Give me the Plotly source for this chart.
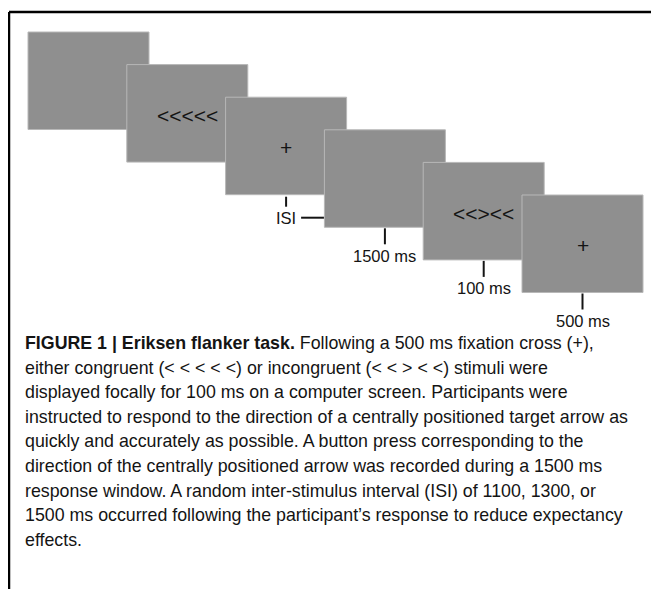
import plotly.graph_objects as go

# ---- data ----
screen_symbols = ["", "<<<<<", "+", "", "<<><<", "+"]
screen_durations = ["", "", "ISI", "1500 ms", "100 ms", "500 ms"]
caption_lines = [
    "<b>FIGURE 1 | Eriksen flanker task.</b> Following a 500 ms fixation cross (+),",
    "either congruent (< < < < <) or incongruent (< < > < <) stimuli were",
    "displayed focally for 100 ms on a computer screen. Participants were",
    "instructed to respond to the direction of a centrally positioned target arrow as",
    "quickly and accurately as possible. A button press corresponding to the",
    "direction of the centrally positioned arrow was recorded during a 1500 ms",
    "response window. A random inter-stimulus interval (ISI) of 1100, 1300, or",
    "1500 ms occurred following the participant\u2019s response to reduce expectancy",
    "effects.",
]

# ---- layout constants (page pixel coordinates) ----
W, H = 659, 589
OFF = 8                  # default page body margin
x0, y0 = 28, 32          # first screen top-left
dx, dy = 98.8, 32.6      # cascade step
sw, sh = 121, 97.5       # screen size
gray = "#8f8f8f"
edge = "#b8b8b8"
ink = "#141414"
font = "Liberation Sans, Arial, Helvetica, sans-serif"

shapes = []
annotations = []

# frame border
shapes.append(dict(type="line", x0=9, x1=W + 2, y0=12, y1=12, line=dict(color="black", width=2.5)))
shapes.append(dict(type="line", x0=9, x1=9, y0=12, y1=H + 2, line=dict(color="black", width=2.5)))

for i, (sym, dur) in enumerate(zip(screen_symbols, screen_durations)):
    L = x0 + i * dx
    T = y0 + i * dy
    R, B = L + sw, T + sh
    cx, cy = (L + R) / 2, (T + B) / 2
    shapes.append(dict(type="rect", x0=L, x1=R, y0=T, y1=B,
                       fillcolor=gray, line=dict(color=edge, width=1), layer="above"))
    if sym:
        annotations.append(dict(x=cx, y=cy + 2, text=sym, showarrow=False,
                                xanchor="center", yanchor="middle",
                                font=dict(family=font, size=21, color=ink)))
    if dur == "ISI":
        shapes.append(dict(type="line", x0=cx, x1=cx, y0=B + 2, y1=B + 12,
                           line=dict(color=ink, width=2), layer="above"))
        annotations.append(dict(x=cx, y=B + 23, text=dur, showarrow=False,
                                xanchor="center", yanchor="middle",
                                font=dict(family=font, size=16.5, color=ink)))
        nextL = x0 + (i + 1) * dx
        shapes.append(dict(type="line", x0=cx + 15, x1=nextL, y0=B + 23, y1=B + 23,
                           line=dict(color=ink, width=2), layer="above"))
    elif dur:
        shapes.append(dict(type="line", x0=cx, x1=cx, y0=B + 1, y1=B + 17,
                           line=dict(color=ink, width=2), layer="above"))
        annotations.append(dict(x=cx, y=B + 28.5, text=dur, showarrow=False,
                                xanchor="center", yanchor="middle",
                                font=dict(family=font, size=16.5, color=ink)))

cap_y0, cap_dy = 343, 24.6
for j, line in enumerate(caption_lines):
    annotations.append(dict(x=23, y=cap_y0 + j * cap_dy, text=line, showarrow=False,
                            xanchor="left", yanchor="middle",
                            font=dict(family=font, size=17.8, color=ink)))

fig = go.Figure()
fig.update_layout(
    width=W - OFF, height=H - OFF,
    margin=dict(l=0, r=0, t=0, b=0),
    paper_bgcolor="white", plot_bgcolor="white",
    xaxis=dict(range=[OFF, W], visible=False, fixedrange=True),
    yaxis=dict(range=[H, OFF], visible=False, fixedrange=True),
    shapes=shapes, annotations=annotations, showlegend=False,
)
fig.write_html("out.html")
